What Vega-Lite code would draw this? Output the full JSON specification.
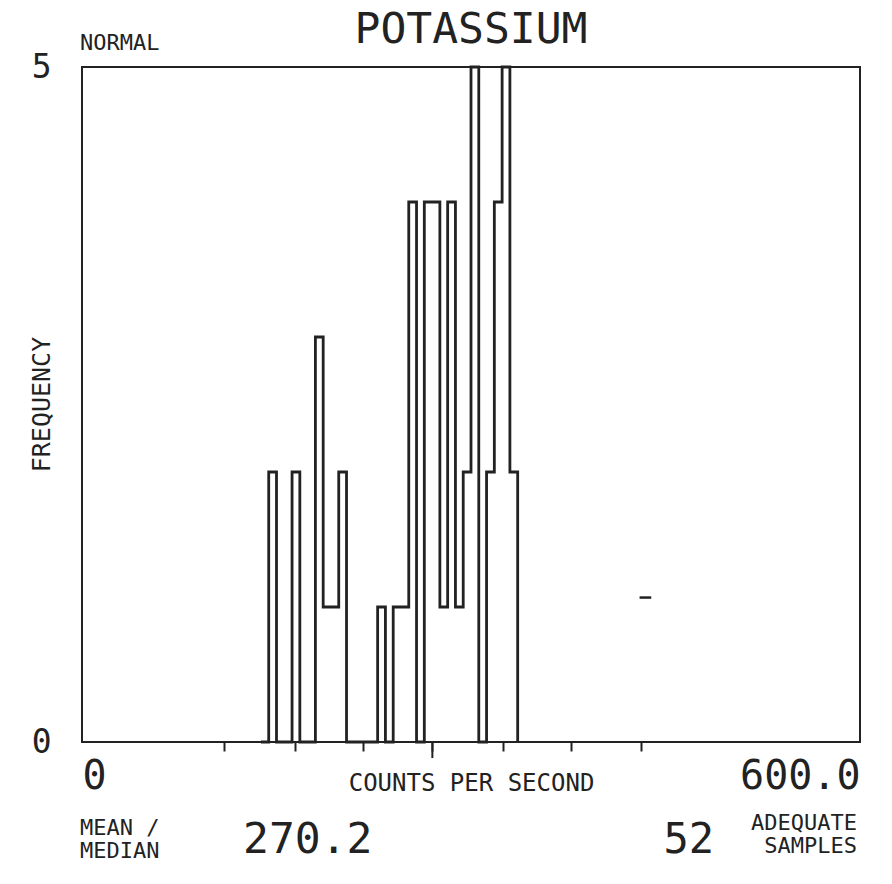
{
  "$schema": "https://vega.github.io/schema/vega-lite/v6.json",
  "width": 778,
  "height": 675,
  "autosize": {"type": "none"},
  "padding": {"left": 82, "top": 67, "right": 32, "bottom": 142},
  "background": "white",
  "config": {
    "view": {"stroke": "#222", "strokeWidth": 2},
    "font": "DejaVu Sans Mono",
    "text": {"font": "DejaVu Sans Mono", "color": "#222"},
    "axis": {"labelFont": "DejaVu Sans Mono", "titleFont": "DejaVu Sans Mono", "labelColor": "#222", "titleColor": "#222", "tickColor": "#222", "grid": false, "domain": false, "titleFontWeight": "normal"}
  },
  "title": {
    "text": "POTASSIUM",
    "font": "DejaVu Sans Mono",
    "fontSize": 43,
    "fontWeight": "normal",
    "color": "#222",
    "anchor": "middle",
    "frame": "group",
    "offset": -20
  },
  "datasets": {
    "bins": [
      {"cps": 138, "frequency": 0},
      {"cps": 144, "frequency": 2},
      {"cps": 150, "frequency": 0},
      {"cps": 156, "frequency": 0},
      {"cps": 162, "frequency": 2},
      {"cps": 168, "frequency": 0},
      {"cps": 174, "frequency": 0},
      {"cps": 180, "frequency": 3},
      {"cps": 186, "frequency": 1},
      {"cps": 192, "frequency": 1},
      {"cps": 198, "frequency": 2},
      {"cps": 204, "frequency": 0},
      {"cps": 210, "frequency": 0},
      {"cps": 216, "frequency": 0},
      {"cps": 222, "frequency": 0},
      {"cps": 228, "frequency": 1},
      {"cps": 234, "frequency": 0},
      {"cps": 240, "frequency": 1},
      {"cps": 246, "frequency": 1},
      {"cps": 252, "frequency": 4},
      {"cps": 258, "frequency": 0},
      {"cps": 264, "frequency": 4},
      {"cps": 270, "frequency": 4},
      {"cps": 276, "frequency": 1},
      {"cps": 282, "frequency": 4},
      {"cps": 288, "frequency": 1},
      {"cps": 294, "frequency": 2},
      {"cps": 300, "frequency": 5},
      {"cps": 306, "frequency": 0},
      {"cps": 312, "frequency": 2},
      {"cps": 318, "frequency": 4},
      {"cps": 324, "frequency": 5},
      {"cps": 330, "frequency": 2},
      {"cps": 336, "frequency": 0}
    ],
    "speck": [{"x": 430, "x2": 439, "y": 1.07}],
    "mean": [{"cps": 270.2}],
    "one": [{}]
  },
  "encoding": {
    "x": {"type": "quantitative", "scale": {"domain": [0, 600], "nice": false, "zero": false}},
    "y": {"type": "quantitative", "scale": {"domain": [0, 5], "nice": false}}
  },
  "layer": [
    {
      "data": {"name": "bins"},
      "mark": {"type": "line", "interpolate": "step-after", "color": "#222", "strokeWidth": 2.8},
      "encoding": {
        "x": {
          "field": "cps",
          "type": "quantitative",
          "axis": {
            "title": "COUNTS PER SECOND",
            "titleFontSize": 24,
            "titleY": 41,
            "titleBaseline": "middle",
            "values": [0, 109.5, 164, 216.5, 270.2, 324.5, 377, 431, 600],
            "labelExpr": "datum.value == 0 ? '0' : datum.value == 600 ? '600.0' : ''",
            "labelFlush": true,
            "labelOverlap": false,
            "labelFontSize": 40,
            "labelPadding": 5,
            "tickWidth": 2,
            "tickSize": 9,
            "tickOpacity": {"condition": {"test": "datum.value == 0 || datum.value == 600", "value": 0}, "value": 1}
          }
        },
        "y": {
          "field": "frequency",
          "type": "quantitative",
          "axis": {
            "title": "FREQUENCY",
            "titleFontSize": 25,
            "titleX": -41,
            "titleY": 337,
            "titleAlign": "center",
            "titleBaseline": "middle",
            "values": [0, 5],
            "format": "d",
            "labelFontSize": 33,
            "labelPadding": 31,
            "ticks": false
          }
        }
      }
    },
    {
      "data": {"name": "mean"},
      "mark": {"type": "rule", "color": "#222", "strokeWidth": 2},
      "encoding": {
        "x": {"field": "cps", "type": "quantitative"},
        "y": {"datum": 0, "type": "quantitative"},
        "y2": {"datum": -0.119}
      }
    },
    {
      "data": {"name": "speck"},
      "mark": {"type": "rule", "color": "#222", "strokeWidth": 2.5},
      "encoding": {
        "x": {"field": "x", "type": "quantitative"},
        "x2": {"field": "x2"},
        "y": {"field": "y", "type": "quantitative"}
      }
    },
    {
      "data": {"name": "one"},
      "mark": {"type": "text", "text": "NORMAL", "align": "left", "baseline": "alphabetic", "fontSize": 22, "font": "DejaVu Sans Mono", "color": "#222"},
      "encoding": {
        "x": {"datum": -1.5, "type": "quantitative"},
        "y": {"datum": 5.126, "type": "quantitative"}
      }
    },
    {
      "data": {"name": "one"},
      "mark": {"type": "text", "text": ["MEAN /", "MEDIAN"], "lineHeight": 23, "align": "left", "baseline": "alphabetic", "fontSize": 22, "font": "DejaVu Sans Mono", "color": "#222"},
      "encoding": {
        "x": {"datum": -1.5, "type": "quantitative"},
        "y": {"datum": -0.69, "type": "quantitative"}
      }
    },
    {
      "data": {"name": "one"},
      "mark": {"type": "text", "text": "270.2", "align": "left", "baseline": "alphabetic", "fontSize": 43, "font": "DejaVu Sans Mono", "color": "#222"},
      "encoding": {
        "x": {"datum": 124.2, "type": "quantitative"},
        "y": {"datum": -0.82, "type": "quantitative"}
      }
    },
    {
      "data": {"name": "one"},
      "mark": {"type": "text", "text": "52", "align": "right", "baseline": "alphabetic", "fontSize": 42, "font": "DejaVu Sans Mono", "color": "#222"},
      "encoding": {
        "x": {"datum": 487.4, "type": "quantitative"},
        "y": {"datum": -0.82, "type": "quantitative"}
      }
    },
    {
      "data": {"name": "one"},
      "mark": {"type": "text", "text": ["ADEQUATE", "SAMPLES"], "lineHeight": 23, "align": "right", "baseline": "alphabetic", "fontSize": 22, "font": "DejaVu Sans Mono", "color": "#222"},
      "encoding": {
        "x": {"datum": 597.7, "type": "quantitative"},
        "y": {"datum": -0.65, "type": "quantitative"}
      }
    }
  ]
}
